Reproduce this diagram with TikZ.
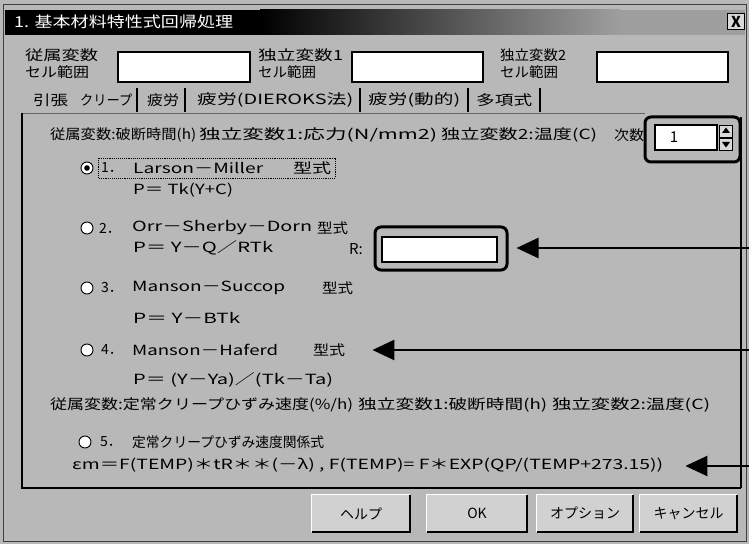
\documentclass[tikz,border=0pt]{standalone}
\usepackage{fontspec}
\setmainfont{Noto Sans CJK JP}
\usetikzlibrary{arrows.meta}
\newcommand\fw[2]{\resizebox{#1bp}{\height}{#2}}
\begin{document}
\begin{tikzpicture}[x=1bp,y=-1bp,
 txt/.style={anchor=west,inner sep=0pt,font=\fontsize{14bp}{16bp}\selectfont},
 field/.style={draw=black,fill=white,line width=1.2bp,inner sep=0pt},
 radio/.style={circle,draw=black,fill=white,inner sep=0pt,minimum size=12bp,line width=0.9bp},
 hl/.style={draw=black,line width=3bp,rounded corners=6bp,inner sep=0pt},
 ann/.style={line width=2.5bp,draw=black},
 arr/.style={ann,-{Triangle[length=22bp,width=20bp]}},
 btn/.style={fill=black!18,inner sep=0pt,font=\fontsize{14bp}{16bp}\selectfont},
 tabbar/.style={line width=2.5bp}]
\useasboundingbox (0,0) rectangle (749,544);
\fill[black!28] (0,0) rectangle (749,544);
\draw[black!75,line width=0.8bp] (3,4) rectangle (746,541);
% title bar
\fill[black] (5,10) rectangle (260,35);
\shade[left color=black,right color=black!38] (260,10) rectangle (620,35);
\fill[black!38] (620,10) rectangle (745,35);
\node[txt,text=white,font=\fontsize{15bp}{16bp}\selectfont] (title) at (14,22) {\fw{219}{1. 基本材料特性式回帰処理}};
\node[draw=black,fill=black!15,line width=1bp,minimum width=17bp,minimum height=16bp,inner sep=0pt,font=\fontsize{15bp}{16bp}\selectfont\bfseries] (close) at (736,22) {X};
% range labels and fields
\node[txt] (lab1a) at (25,55) {\fw{73}{従属変数}};
\node[txt] (lab1b) at (25,72) {\fw{64}{セル範囲}};
\node[txt] (lab2a) at (258,55) {\fw{85}{独立変数1}};
\node[txt] (lab2b) at (258,72) {\fw{58}{セル範囲}};
\node[txt] (lab3a) at (500,55) {\fw{66}{独立変数2}};
\node[txt] (lab3b) at (500,72) {\fw{58}{セル範囲}};
\node[field,minimum width=132bp,minimum height=30bp] (f1) at (184,67) {};
\node[field,minimum width=131bp,minimum height=30bp] (f2) at (417.5,67) {};
\node[field,minimum width=131bp,minimum height=30bp] (f3) at (662.5,67) {};
% tabs
\node[txt] (t1) at (33,100) {\fw{35}{引張}};
\node[txt] (t2) at (80,100) {\fw{52}{クリープ}};
\node[txt] (t3) at (147,100) {\fw{32}{疲労}};
\node[txt] (t4) at (197,100) {\fw{156}{疲労(DIEROKS法)}};
\node[txt] (t5) at (368,100) {\fw{92}{疲労(動的)}};
\node[txt] (t6) at (476,100) {\fw{56}{多項式}};
\foreach \bx in {137,185,360,468,540} \draw[tabbar] (\bx,88) -- (\bx,112);
% frame
\draw[black!60,line width=0.8bp] (22,113) -- (645,113);
\draw[line width=1.5bp] (22,113) -- (22,488) -- (741,488);
% header 1
\node[txt] (h1a) at (50,135) {\fw{146}{従属変数:破断時間(h)}};
\node[txt] (h1b) at (199,135) {\fw{238}{独立変数1:応力(N/mm2)}};
\node[txt] (h1c) at (441,135) {\fw{156}{独立変数2:温度(C)}};
\node[txt] (h1d) at (614,135) {\fw{30}{次数}};
% spinner
\node[hl,minimum width=95bp,minimum height=45bp] (spin) at (692.5,139.5) {};
\node[field,minimum width=62bp,minimum height=25bp,font=\fontsize{15bp}{16bp}\selectfont] (spinf) at (686,137.5) {\hspace*{-24bp}1};
\node[draw=black,fill=black!15,minimum width=13bp,minimum height=12bp,inner sep=0pt,line width=0.8bp] (up) at (726,131) {};
\node[draw=black,fill=black!15,minimum width=13bp,minimum height=12bp,inner sep=0pt,line width=0.8bp] (dn) at (726,144) {};
\fill (726,127.5) -- (722,133) -- (730,133) -- cycle;
\fill (726,147.5) -- (722,142) -- (730,142) -- cycle;
% option 1
\node[radio] (r1) at (87,168) {};
\fill (r1.center) circle (2.8bp);
\draw[densely dotted,line width=0.9bp] (98,158) rectangle (335,178);
\node[txt] (o1n) at (101,168) {1．};
\node[txt] (o1) at (133,168) {\fw{130}{Larson－Miller}};
\node[txt] (o1t) at (293,168) {\fw{38}{型式}};
\node[txt] (p1) at (133,190) {\fw{100}{P＝ Tk(Y+C)}};
% option 2
\node[radio] (r2) at (87,228) {};
\node[txt] (o2n) at (99,228) {2．};
\node[txt] (o2) at (132,228) {\fw{180}{Orr－Sherby－Dorn}};
\node[txt] (o2t) at (317,228) {\fw{31}{型式}};
\node[txt] (p2) at (133,248) {\fw{140}{P＝ Y－Q／RTk}};
\node[txt,font=\fontsize{15bp}{16bp}\selectfont] (rl) at (349,249) {R:};
\node[hl,minimum width=132bp,minimum height=43bp] (rhl) at (441,248.5) {};
\node[field,minimum width=115bp,minimum height=25bp] (rf) at (439.5,249.5) {};
% option 3
\node[radio] (r3) at (87,288) {};
\node[txt] (o3n) at (101,288) {3．};
\node[txt] (o3) at (132,288) {\fw{153}{Manson－Succop}};
\node[txt] (o3t) at (322,288) {\fw{31}{型式}};
\node[txt] (p3) at (133,318) {\fw{107}{P＝ Y－BTk}};
% option 4
\node[radio] (r4) at (87,350) {};
\node[txt] (o4n) at (101,350) {4．};
\node[txt] (o4) at (132,350) {\fw{146}{Manson－Haferd}};
\node[txt] (o4t) at (313,350) {\fw{32}{型式}};
\node[txt] (p4) at (133,380) {\fw{200}{P＝ (Y－Ya)／(Tk－Ta)}};
% header 2
\node[txt] (h2a) at (50,405) {\fw{303}{従属変数:定常クリープひずみ速度(\%/h)}};
\node[txt] (h2b) at (358,405) {\fw{189}{独立変数1:破断時間(h)}};
\node[txt] (h2c) at (552,405) {\fw{158}{独立変数2:温度(C)}};
% option 5
\node[radio] (r5) at (85,442) {};
\node[txt] (o5n) at (100,442) {5．};
\node[txt] (o5) at (132,442) {\fw{192}{定常クリープひずみ速度関係式}};
\node[txt] (form) at (72,465) {\fw{591}{εm＝F(TEMP)＊tR＊＊(－λ) , F(TEMP)= F＊EXP(QP/(TEMP+273.15))}};
% annotation lines
\coordinate (vtop) at (741,117);
\coordinate (vbot) at (741,488);
\coordinate (e1) at (749,248);
\coordinate (e2) at (749,350);
\coordinate (e3) at (749,466);
\draw[ann] (vtop) -- (vbot);
\draw[arr,shorten >=8bp] (e1) -- (rhl.east |- e1);
\draw[arr,shorten >=27bp] (e2) -- (o4t.east |- e2);
\draw[arr,shorten >=22bp] (e3) -- (form.east |- e3);
% buttons
\node[btn,minimum width=98bp,minimum height=37bp] (help) at (361,513.5) {ヘルプ};
\node[btn,minimum width=100bp,minimum height=37bp] (ok) at (477,513.5) {OK};
\node[btn,minimum width=96bp,minimum height=37bp] (opt) at (585,513.5) {オプション};
\node[btn,minimum width=97bp,minimum height=37bp] (cancel) at (688.5,513.5) {キャンセル};
\foreach \b in {help,ok,opt,cancel}{
  \draw[white,line width=1bp] (\b.south west) -- (\b.north west) -- (\b.north east);
  \draw[line width=2.5bp] (\b.north east) -- (\b.south east) -- (\b.south west);
}
\end{tikzpicture}
\end{document}
